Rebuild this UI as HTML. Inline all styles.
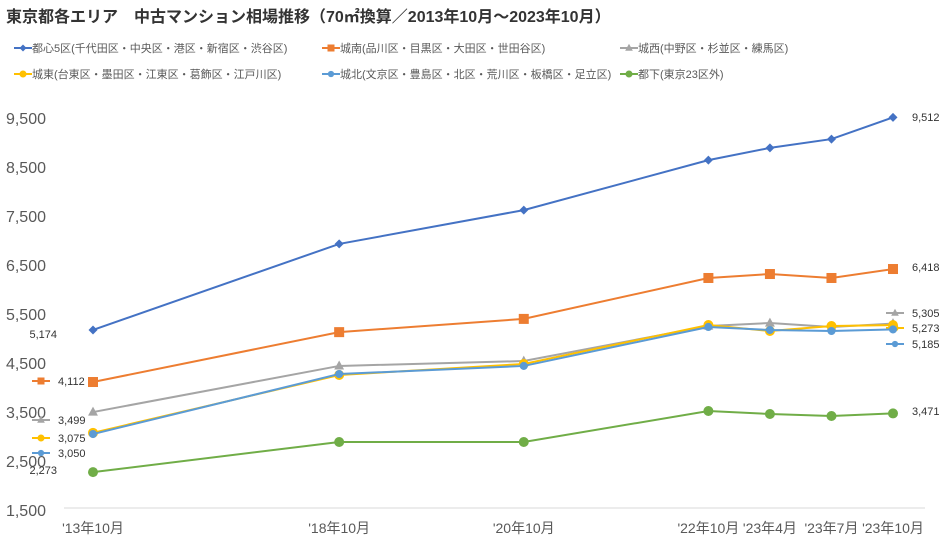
<!DOCTYPE html>
<html><head><meta charset="utf-8"><style>
body{margin:0;background:#fff;width:940px;height:545px;overflow:hidden;font-family:"Liberation Sans","Noto Sans CJK JP",sans-serif}
</style></head><body>
<svg id="c" width="940" height="545" xmlns="http://www.w3.org/2000/svg" font-family="Liberation Sans, Noto Sans CJK JP, sans-serif">
<text x="6" y="22" font-size="16" font-weight="bold" fill="#333">東京都各エリア　中古マンション相場推移（70㎡換算／2013年10月～2023年10月）</text>
<g id="legend"></g>
<g id="axes"></g><g id="series"></g>
</svg>
<script>
const categories=["'13年10月","","","","'18年10月","","","'20年10月","","","'22年10月","'23年4月","'23年7月","'23年10月"];
const seriesNames=["都心5区(千代田区・中央区・港区・新宿区・渋谷区)","城南(品川区・目黒区・大田区・世田谷区)","城西(中野区・杉並区・練馬区)","城東(台東区・墨田区・江東区・葛飾区・江戸川区)","城北(文京区・豊島区・北区・荒川区・板橋区・足立区)","都下(東京23区外)"];
const sToshin=[5174,null,null,null,6930,null,null,7620,null,null,8640,8890,9070,9512];
const sJonan=[4112,null,null,null,5130,null,null,5400,null,null,6235,6316,6235,6418];
const sJosai=[3499,null,null,null,4440,null,null,4540,null,null,5255,5316,5235,5305];
const sJoto=[3075,null,null,null,4255,null,null,4480,null,null,5275,5153,5255,5273];
const sJohoku=[3050,null,null,null,4275,null,null,4440,null,null,5235,5173,5153,5185];
const sToka=[2273,null,null,null,2888,null,null,2888,null,null,3520,3459,3418,3471];
const yTicks=[1500,2500,3500,4500,5500,6500,7500,8500,9500];
const NS="http://www.w3.org/2000/svg";
const colors=["#4472C4","#ED7D31","#A5A5A5","#FFC000","#5B9BD5","#70AD47"];
const markers=["diamond","square","triangle","circle","diamond2","circle"];
const allSeries=[sToshin,sJonan,sJosai,sJoto,sJohoku,sToka];
const names=["toshin","jonan","josai","joto","johoku","toka"];
const x0=93,x1=893,yMin=1500,yMax=9500,yB=510,yT=118;
const X=i=>x0+(x1-x0)*i/(categories.length-1);
const Y=v=>yB-(v-yMin)/(yMax-yMin)*(yB-yT);
function el(t,a,p){const e=document.createElementNS(NS,t);for(const k in a)e.setAttribute(k,a[k]);p.appendChild(e);return e;}
const axes=document.getElementById('axes'),ser=document.getElementById('series'),leg=document.getElementById('legend');
const ax=el('line',{x1:64,x2:925,y1:508,y2:508,stroke:'#d9d9d9'},axes);


yTicks.forEach(v=>{const t=el('text',{x:46,y:Y(v)+6,'text-anchor':'end','font-size':16,fill:'#595959'},axes);t.textContent=v.toLocaleString('en-US');

});
categories.forEach((c,i)=>{if(!c)return;const t=el('text',{x:X(i),y:533,'text-anchor':'middle','font-size':14,fill:'#595959'},axes);t.textContent=c;

});
function marker(kind,x,y,col,p,s){
 if(kind==='square')return el('rect',{x:x-s,y:y-s,width:2*s,height:2*s,fill:col},p);
 if(kind==='triangle')return el('polygon',{points:`${x},${y-s*1.2} ${x+s*1.1},${y+s*0.8} ${x-s*1.1},${y+s*0.8}`,fill:col},p);
 if(kind==='circle')return el('circle',{cx:x,cy:y,r:s,fill:col},p);
 if(kind==='diamond')return el('polygon',{points:`${x},${y-s} ${x+s},${y} ${x},${y+s} ${x-s},${y}`,fill:col},p);
 return el('circle',{cx:x,cy:y,r:s*0.9,fill:col},p);
}
const legPos=[[14,48],[322,48],[620,48],[14,74],[322,74],[620,74]];
seriesNames.forEach((n,k)=>{const g=el('g',{},leg);


const [lx,ly]=legPos[k];el('line',{x1:lx,x2:lx+18,y1:ly,y2:ly,stroke:colors[k],'stroke-width':2},g);marker(markers[k],lx+9,ly,colors[k],g,3.5);
const t=el('text',{x:lx+18,y:ly+4,'font-size':11,fill:'#595959'},g);t.textContent=n;});
// [x, y, hasKey] ; keyed labels start at x, plain left labels end at x
const leftLab=[[57,338,false],[58,385,true],[58,424,true],[58,442,true],[58,457,true],[57,474,false]];
const rightLab=[[912,121,false],[912,271,false],[912,317,true],[912,332,true],[912,348,true],[912,415,false]];
allSeries.forEach((s,k)=>{const g=el('g',{},ser);


const pts=[];s.forEach((v,i)=>{if(v!=null)pts.push([X(i),Y(v)]);});
el('polyline',{points:pts.map(p=>p.join(',')).join(' '),fill:'none',stroke:colors[k],'stroke-width':2},g);
const sz=k===1?5:k===5||k===3?5:4.5;
pts.forEach(p=>{const m=marker(markers[k],p[0],p[1],colors[k],g,sz);

});
const first=s[0],last=s[s.length-1];
[[leftLab[k],first,true],[rightLab[k],last,false]].forEach(([L,v,isLeft])=>{
 const anc=(isLeft&&!L[2])?'end':'start';
 const t=el('text',{x:L[0],y:L[1],'text-anchor':anc,'font-size':11,fill:'#333'},g);t.textContent=v.toLocaleString('en-US');
 
 
 if(L[2]){const kx=L[0]-14;el('line',{x1:kx-12,x2:kx+6,y1:L[1]-4,y2:L[1]-4,stroke:colors[k],'stroke-width':2},g);marker(markers[k],kx-3,L[1]-4,colors[k],g,3.5);}
});
});
</script>
</body></html>
